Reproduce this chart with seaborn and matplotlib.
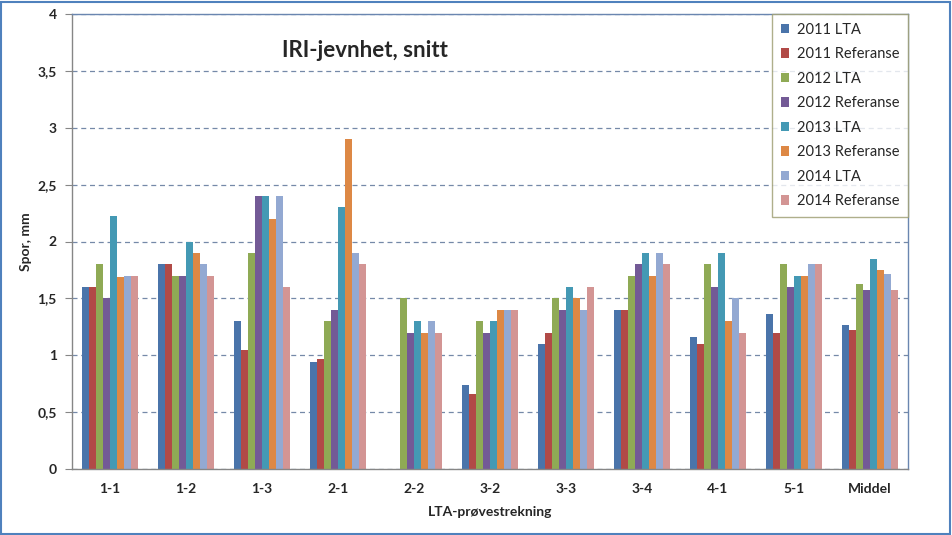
import numpy as np
import pandas as pd
import matplotlib
matplotlib.use("Agg")
import matplotlib.pyplot as plt
import seaborn as sns
from matplotlib.ticker import FuncFormatter

categories = ["1-1", "1-2", "1-3", "2-1", "2-2", "3-2", "3-3", "3-4", "4-1", "5-1", "Middel"]
series = ["2011 LTA", "2011 Referanse", "2012 LTA", "2012 Referanse",
          "2013 LTA", "2013 Referanse", "2014 LTA", "2014 Referanse"]
v2011_lta = [1.6, 1.8, 1.3, 0.94, np.nan, 0.74, 1.1, 1.4, 1.16, 1.36, 1.27]
v2011_ref = [1.6, 1.8, 1.05, 0.97, np.nan, 0.66, 1.2, 1.4, 1.1, 1.2, 1.22]
v2012_lta = [1.8, 1.7, 1.9, 1.3, 1.5, 1.3, 1.5, 1.7, 1.8, 1.8, 1.63]
v2012_ref = [1.5, 1.7, 2.4, 1.4, 1.2, 1.2, 1.4, 1.8, 1.6, 1.6, 1.57]
v2013_lta = [2.22, 2.0, 2.4, 2.3, 1.3, 1.3, 1.6, 1.9, 1.9, 1.7, 1.85]
v2013_ref = [1.69, 1.9, 2.2, 2.9, 1.2, 1.4, 1.5, 1.7, 1.3, 1.7, 1.75]
v2014_lta = [1.7, 1.8, 2.4, 1.9, 1.3, 1.4, 1.4, 1.9, 1.5, 1.8, 1.71]
v2014_ref = [1.7, 1.7, 1.6, 1.8, 1.2, 1.4, 1.6, 1.8, 1.2, 1.8, 1.57]
yticks = [0, 0.5, 1, 1.5, 2, 2.5, 3, 3.5, 4]

colors = ["#4A74AA", "#B14A47", "#8FAA55", "#735A96", "#4499B4", "#DD8845", "#93A9D2", "#D39594"]

all_vals = [v2011_lta, v2011_ref, v2012_lta, v2012_ref, v2013_lta, v2013_ref, v2014_lta, v2014_ref]
rows = []
for s, vals in zip(series, all_vals):
    for c, v in zip(categories, vals):
        rows.append({"Strekning": c, "Serie": s, "Verdi": v})
df = pd.DataFrame(rows)

sns.set_style("white")
plt.rcParams["font.family"] = ["Lato", "DejaVu Sans"]

fig = plt.figure(figsize=(9.52, 5.35), dpi=100)
ax = fig.add_axes([72 / 952, 1 - 469 / 535, 836 / 952, 455 / 535])

sns.barplot(data=df, x="Strekning", y="Verdi", hue="Serie", order=categories,
            hue_order=series, palette=colors, width=0.74, saturation=1,
            errorbar=None, ax=ax, legend=True, linewidth=0, edgecolor="none")

ax.set_ylim(0, 4)
ax.set_xlim(-0.5, len(categories) - 0.5)
ax.set_yticks(yticks)
ax.yaxis.set_major_formatter(FuncFormatter(lambda v, p: f"{v:g}".replace(".", ",")))
ax.yaxis.grid(True, linestyle=(0, (4, 3)), color="#7589A8", linewidth=0.9)
ax.set_axisbelow(True)

for lab in ax.get_xticklabels() + ax.get_yticklabels():
    lab.set_fontweight("bold")
    lab.set_fontsize(10)
ax.tick_params(axis="y", length=5, pad=6, color="#868686", left=True)
ax.tick_params(axis="x", length=0, pad=10)

ax.spines["left"].set_color("#868686")
ax.spines["bottom"].set_color("#868686")
ax.spines["top"].set_color("#6A86B0")
ax.spines["right"].set_color("#6A86B0")
for sp in ax.spines.values():
    sp.set_linewidth(1.0)

ax.set_xlabel("LTA-prøvestrekning", fontweight="bold", fontsize=10, labelpad=8)
ax.set_ylabel("Spor, mm", fontweight="bold", fontsize=10, labelpad=4)

ax.text(0.35, 0.92, "IRI-jevnhet, snitt", transform=ax.transAxes,
        ha="center", va="center", fontsize=16, fontweight="bold")

leg = ax.legend(loc="upper right", bbox_to_anchor=(1.0, 1.0), frameon=True,
                fancybox=False, fontsize=10.5, handlelength=0.6, handleheight=0.6,
                labelspacing=0.72, borderpad=0.6, handletextpad=0.5,
                borderaxespad=0.0)
leg.get_frame().set_edgecolor("#9B9B6E")
leg.get_frame().set_linewidth(1.0)

fig.patches.append(plt.Rectangle((0.001, 0.002), 0.997, 0.995, transform=fig.transFigure,
                                 fill=False, edgecolor="#4F81BD", linewidth=1.5))

fig.savefig("out.png", dpi=100)
